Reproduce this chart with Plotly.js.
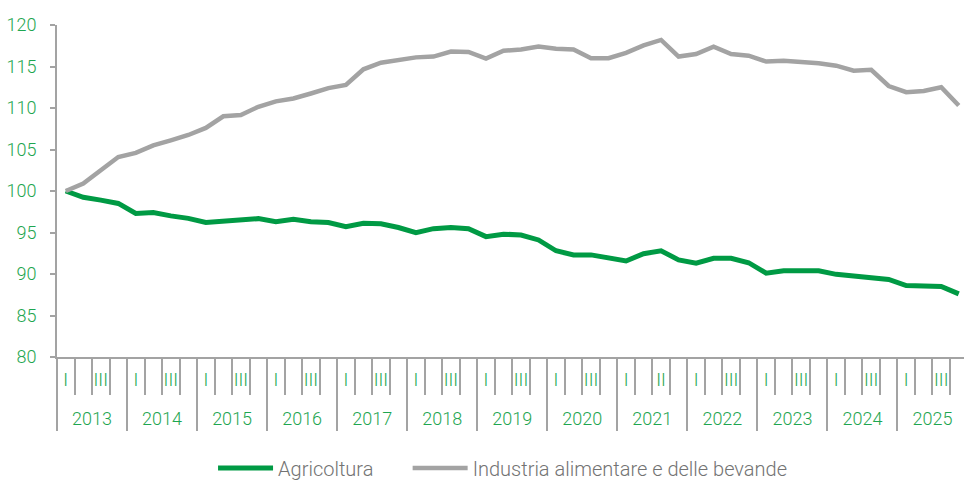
<!DOCTYPE html>
<html>
<head>
<meta charset="utf-8">
<script src="https://cdn.plot.ly/plotly-3.0.1.min.js"></script>
<style>html,body{margin:0;padding:0;background:#fff;}#chart{width:964px;height:484px;}</style>
</head>
<body>
<div id="chart"></div>
<script>
const yearsList = ['2013','2014','2015','2016','2017','2018','2019','2020','2021','2022','2023','2024','2025'];
const quarterLabels = [
  'I','','III','', 'I','','III','', 'I','','III','', 'I','','III','',
  'I','','III','', 'I','','III','', 'I','','III','', 'I','','III','',
  'I','','II','',  'I','','III','', 'I','','III','', 'I','','III','',
  'I','','III',''
];
const agricoltura = [100, 99.24, 98.9, 98.5, 97.3, 97.4, 97.0, 96.7, 96.2, 96.4, 96.6, 96.67, 96.3, 96.6, 96.3, 96.2,
  95.7, 96.1, 96.05, 95.6, 94.98, 95.46, 95.6, 95.46, 94.5, 94.8, 94.7, 94.1, 92.8, 92.3, 92.3, 92.0, 91.57, 92.45,
  92.8, 91.7, 91.3, 91.9, 91.9, 91.36, 90.1, 90.4, 90.4, 90.4, 89.96, 89.8, 89.56, 89.35, 88.6, 88.6, 88.5, 87.6];
const industria = [100, 100.9, 102.5, 104.1, 104.6, 105.5, 106.1, 106.75, 107.6, 109.0, 109.15, 110.15, 110.8, 111.15, 111.75, 112.4,
  112.77, 114.66, 115.45, 115.8, 116.1, 116.2, 116.8, 116.75, 115.95, 116.9, 117.05, 117.4, 117.15, 117.05, 116.0, 116.0, 116.65, 117.55,
  118.2, 116.2, 116.5, 117.4, 116.5, 116.3, 115.6, 115.7, 115.55, 115.4, 115.1, 114.5, 114.6, 112.65, 111.9, 112.05, 112.5, 110.3];
const seriesNames = ['Agricoltura', 'Industria alimentare e delle bevande'];

// quarter index positions (0 = 2013 Q1)
const xIdx = agricoltura.map((_, i) => i);
const yearCenters = yearsList.map((_, k) => 4 * k + 1.5);

const GREEN = '#009a44';
const GREY = '#a3a3a3';
const TXTGREEN = '#1ea650';
const fontFam = 'Roboto, "Open Sans", sans-serif';
const xRange = [-0.5, 51.3];
const NBSP = '\u00a0';

const traces = [
  {x: xIdx, y: agricoltura, name: seriesNames[0] + NBSP.repeat(6), type: 'scatter', mode: 'lines',
   xaxis: 'x', yaxis: 'y', line: {color: GREEN, width: 5}},
  {x: xIdx, y: industria, name: seriesNames[1], type: 'scatter', mode: 'lines',
   xaxis: 'x2', yaxis: 'y', line: {color: GREY, width: 4.5}}
];

const layout = {
  width: 964, height: 484,
  margin: {l: 57, r: 0, t: 25, b: 127},
  paper_bgcolor: '#fff', plot_bgcolor: '#fff',
  showlegend: true,
  legend: {orientation: 'h', xref: 'container', x: 0.221, xanchor: 'left',
    yref: 'container', y: 0.033, yanchor: 'middle',
    itemwidth: 55,
    font: {family: fontFam, size: 20, color: '#737373', weight: 300}, traceorder: 'normal'},
  xaxis: {
    range: xRange, fixedrange: true,
    showline: true, linecolor: GREY, linewidth: 2,
    tickmode: 'array', tickvals: xIdx, ticktext: quarterLabels,
    ticks: '', ticklabelstandoff: 5, tickangle: 0,
    minor: {tickmode: 'linear', tick0: -0.5, dtick: 1, ticks: 'outside', ticklen: 36, tickcolor: GREY, tickwidth: 2, showgrid: false},
    showgrid: false, zeroline: false,
    tickfont: {family: fontFam, size: 18, color: TXTGREEN, weight: 300}
  },
  xaxis2: {
    overlaying: 'x', anchor: 'y', side: 'bottom',
    range: xRange, fixedrange: true,
    showline: false,
    tickmode: 'array', tickvals: yearCenters, ticktext: yearsList,
    ticks: '', ticklabelstandoff: 49, tickangle: 0,
    minor: {tickmode: 'linear', tick0: -0.5, dtick: 4, ticks: 'outside', ticklen: 73, tickcolor: GREY, tickwidth: 2, showgrid: false},
    showgrid: false, zeroline: false,
    tickfont: {family: fontFam, size: 18, color: TXTGREEN, weight: 300}
  },
  yaxis: {
    range: [80, 120], dtick: 5, tick0: 80,
    showline: true, linecolor: GREY, linewidth: 2,
    ticks: 'outside', ticklen: 5, tickcolor: GREY, tickwidth: 2,
    showgrid: false, zeroline: false,
    ticklabelstandoff: 10,
    tickfont: {family: fontFam, size: 18, color: TXTGREEN, weight: 300}
  }
};

Plotly.newPlot('chart', traces, layout, {displayModeBar: false, staticPlot: true});
</script>
</body>
</html>
